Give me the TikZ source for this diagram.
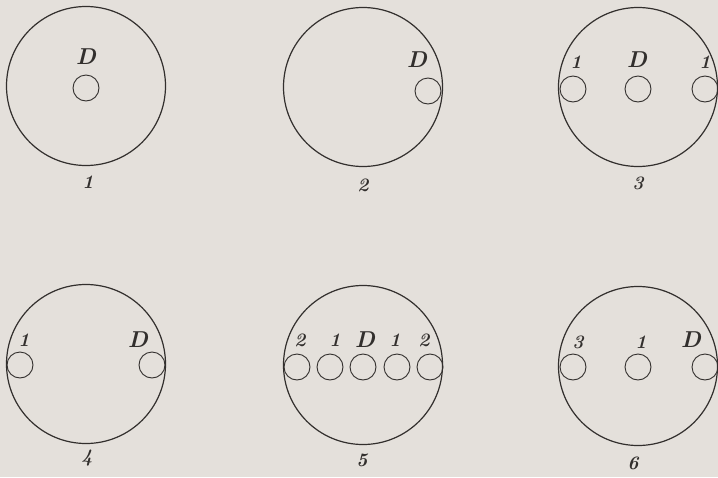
\documentclass[tikz,border=0pt]{standalone}
\definecolor{paper}{RGB}{228,224,219}
\definecolor{ink}{RGB}{50,47,45}
\begin{document}
\begin{tikzpicture}[x=1pt,y=-1pt,
  bigc/.style={circle,draw=ink,line width=1.2pt,minimum size=159pt,inner sep=0pt},
  smallc/.style={circle,draw=ink,line width=0.9pt,minimum size=26pt,inner sep=0pt},
  lab/.style={text=ink,font=\fontsize{23}{26}\selectfont\bfseries\itshape,inner sep=0pt},
  num/.style={text=ink,font=\fontsize{19}{22}\selectfont\bfseries\itshape,inner sep=0pt}]
\fill[paper] (0,0) rectangle (718,477);
\useasboundingbox (0,0) rectangle (718,477);
% figure 1
\node[bigc] (b1) at (86,86) {};
\node[smallc] (s1d) at (86,88) {};
\node[lab] (l1d) at (86,57) {D};
\node[num] (n1) at (88,182) {1};
% figure 2
\node[bigc] (b2) at (363,87) {};
\node[smallc] (s2d) at (428,91) {};
\node[lab] (l2d) at (417,60) {D};
\node[num] (n2) at (363,185) {2};
% figure 3
\node[bigc] (b3) at (638,87) {};
\node[smallc] (s3a) at (573,89) {};
\node[smallc] (s3d) at (638,89) {};
\node[smallc] (s3b) at (705,89) {};
\node[num] (l3a) at (576,62) {1};
\node[lab] (l3d) at (637,60) {D};
\node[num] (l3b) at (705,62) {1};
\node[num] (n3) at (638,183) {3};
% figure 4
\node[bigc] (b4) at (86,364) {};
\node[smallc] (s4a) at (20,365) {};
\node[smallc] (s4d) at (152,365) {};
\node[num] (l4a) at (24,340) {1};
\node[lab] (l4d) at (138,340) {D};
\node[num] (n4) at (87,458) {4};
% figure 5
\node[bigc] (b5) at (363,365) {};
\node[smallc] (s5a) at (297,367) {};
\node[smallc] (s5b) at (330,367) {};
\node[smallc] (s5d) at (363,367) {};
\node[smallc] (s5c) at (397,367) {};
\node[smallc] (s5e) at (430,367) {};
\node[num] (l5a) at (300,340) {2};
\node[num] (l5b) at (335,340) {1};
\node[lab] (l5d) at (365,340) {D};
\node[num] (l5c) at (395,340) {1};
\node[num] (l5e) at (424,340) {2};
\node[num] (n5) at (362,460) {5};
% figure 6
\node[bigc] (b6) at (638,366) {};
\node[smallc] (s6a) at (573,367) {};
\node[smallc] (s6b) at (638,367) {};
\node[smallc] (s6d) at (705,367) {};
\node[num] (l6a) at (578,342) {3};
\node[num] (l6b) at (641,342) {1};
\node[lab] (l6d) at (691,340) {D};
\node[num] (n6) at (633,463) {6};
\end{tikzpicture}
\end{document}
